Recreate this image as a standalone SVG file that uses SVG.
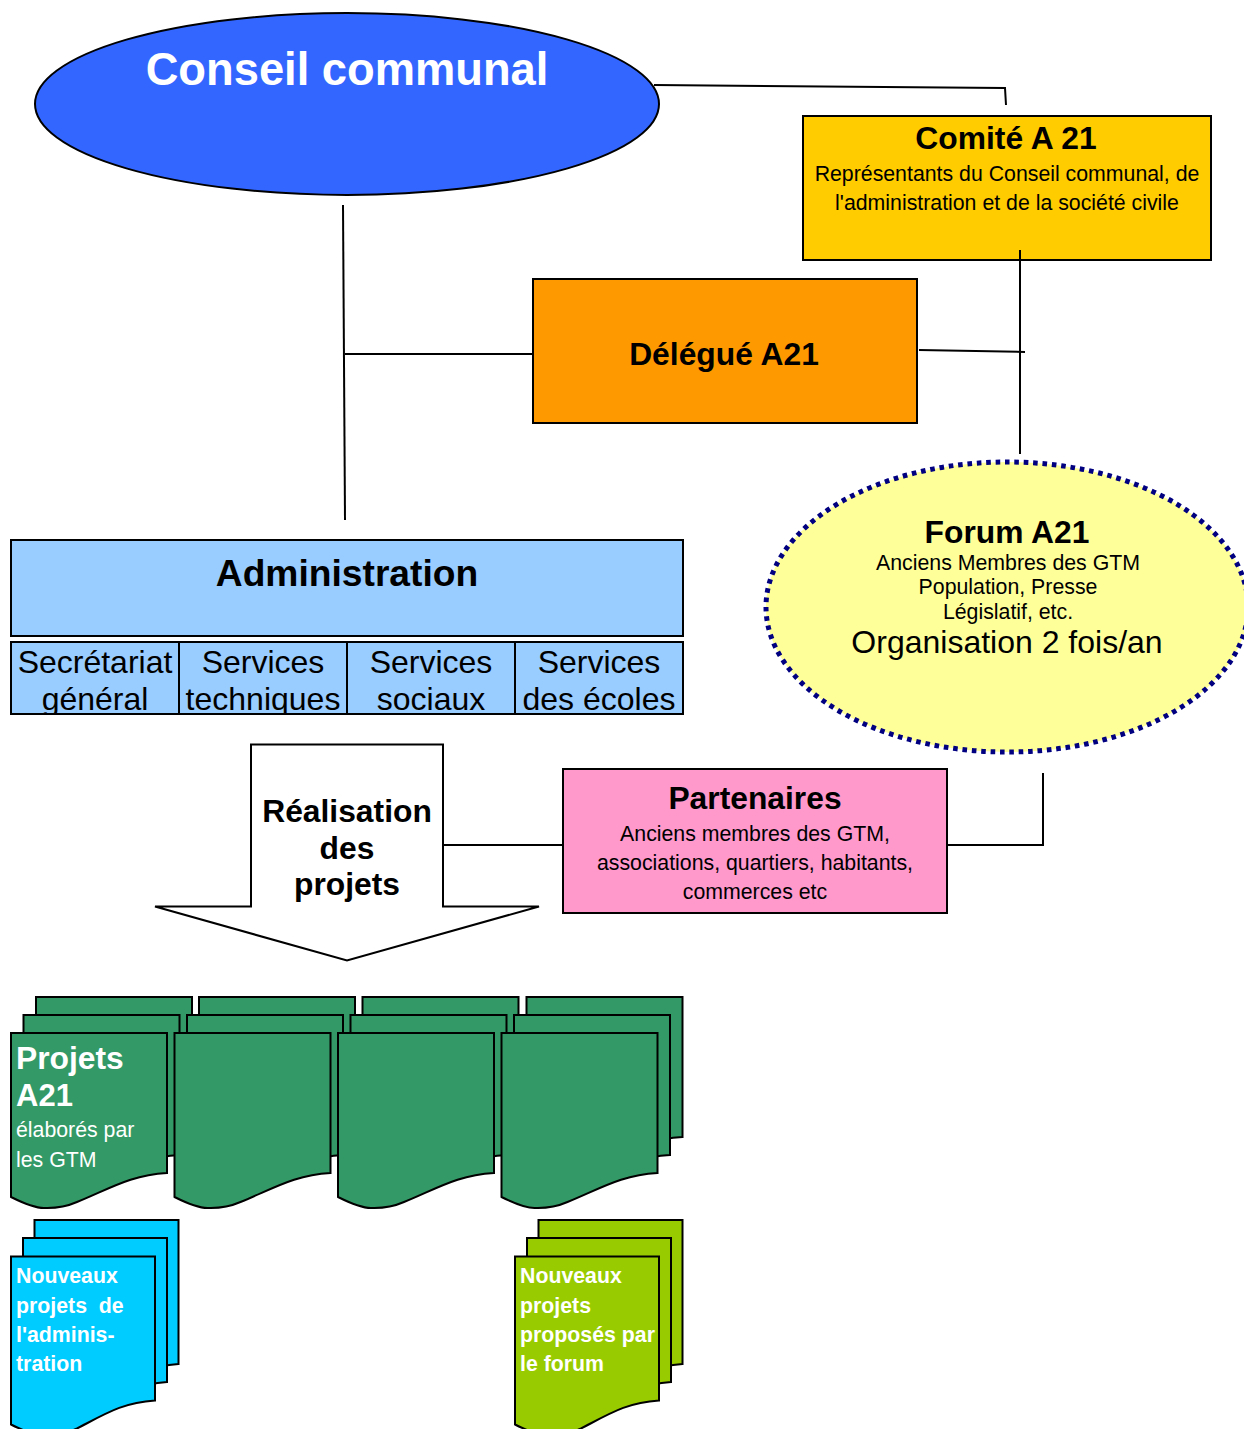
<svg xmlns="http://www.w3.org/2000/svg" xmlns:xlink="http://www.w3.org/1999/xlink" width="1244" height="1429" viewBox="0 0 1244 1429">
<style>
text{font-family:"Liberation Sans",Arial,sans-serif;text-anchor:middle;fill:#000}
.b{font-weight:bold}
.l{text-anchor:start}
.w{fill:#fff}
.s{stroke:#000;stroke-width:2}
.c{fill:none;stroke:#000;stroke-width:2}
.g{fill:#339966}
.cy{fill:#00ccff}
.lm{fill:#99cc00}
.cell{fill:#99ccff;stroke:#000;stroke-width:2}
.t{font-size:31.8px}
.m{font-size:21.3px}
</style>
<defs>
<path id="doc" class="s" d="M0 0H156V140C120 142 100 155 66 169C50 176 39 175 33 175C25 175 12 170 0 164Z"/>
<path id="sdoc" class="s" d="M0 0H144V144C112 146 95 157 66 172C50 179 39 179 33 179C25 179 12 174 0 168Z"/>
<clipPath id="cells"><rect x="10" y="642" width="674" height="72"/></clipPath>
</defs>
<rect width="1244" height="1429" fill="#fff"/>
<g id="conseil">
<ellipse cx="347" cy="104" rx="312" ry="91" fill="#3366ff" class="s"/>
<text x="347" y="85" class="b w" font-size="45.300">Conseil communal</text>
</g>
<g id="comite">
<rect x="803" y="116" width="408" height="144" fill="#ffcc00" class="s"/>
<text x="1006" y="149" class="b t">Comité A 21</text>
<text x="1007" y="181" class="m">Représentants du Conseil communal, de</text>
<text x="1007" y="210" class="m">l'administration et de la société civile</text>
</g>
<g id="delegue">
<rect x="533" y="279" width="384" height="144" fill="#ff9900" class="s"/>
<text x="724" y="365" class="b t">Délégué A21</text>
</g>
<g id="forum">
<ellipse cx="1007" cy="607" rx="241" ry="145" fill="#ffff99" stroke="#000080" stroke-width="5" stroke-dasharray="4.6 4.8"/>
<text x="1007" y="543" class="b t">Forum A21</text>
<text x="1008" y="570" class="m">Anciens Membres des GTM</text>
<text x="1008" y="594" class="m">Population, Presse</text>
<text x="1008" y="619" class="m">Législatif, etc.</text>
<text x="1007" y="653" font-size="32">Organisation 2 fois/an</text>
</g>
<g id="administration">
<rect x="11" y="540" width="672" height="96" fill="#99ccff" class="s"/>
<text x="347" y="586" class="b" font-size="37.200">Administration</text>
</g>
<g id="services">
<rect class="cell" x="11" y="642" width="168" height="72"/>
<rect class="cell" x="179" y="642" width="168" height="72"/>
<rect class="cell" x="347" y="642" width="168" height="72"/>
<rect class="cell" x="515" y="642" width="168" height="72"/>
<g clip-path="url(#cells)" font-size="32">
<text x="95" y="673">Secrétariat</text>
<text x="95" y="710">général</text>
<text x="263" y="673">Services</text>
<text x="263" y="710">techniques</text>
<text x="431" y="673">Services</text>
<text x="431" y="710">sociaux</text>
<text x="599" y="673">Services</text>
<text x="599" y="710">des écoles</text>
</g>
</g>
<g id="realisation">
<path d="M251 744.500H443V906.500H539L347 960.500L155 906.500H251Z" fill="#fff" class="s"/>
<text x="347" y="822" class="b t">Réalisation</text>
<text x="347" y="859" class="b t">des</text>
<text x="347" y="895" class="b t">projets</text>
</g>
<g id="partenaires">
<rect x="563" y="769" width="384" height="144" fill="#ff99cc" class="s"/>
<text x="755" y="809" class="b t">Partenaires</text>
<text x="755" y="841" class="m">Anciens membres des GTM,</text>
<text x="755" y="870" class="m">associations, quartiers, habitants,</text>
<text x="755" y="899" class="m">commerces etc</text>
</g>
<g id="projets">
<g class="g">
<use xlink:href="#doc" x="36" y="997"/><use xlink:href="#doc" x="23.500" y="1015"/><use xlink:href="#doc" x="11" y="1033"/>
<use xlink:href="#doc" x="199" y="997"/><use xlink:href="#doc" x="187" y="1015"/><use xlink:href="#doc" x="174.500" y="1033"/>
<use xlink:href="#doc" x="362.500" y="997"/><use xlink:href="#doc" x="350.500" y="1015"/><use xlink:href="#doc" x="338" y="1033"/>
<use xlink:href="#doc" x="526.500" y="997"/><use xlink:href="#doc" x="514" y="1015"/><use xlink:href="#doc" x="501.500" y="1033"/>
</g>
<text x="16" y="1069" class="b w l t">Projets</text>
<text x="16" y="1106" class="b w l" font-size="31">A21</text>
<text x="16" y="1137" class="w l m">élaborés par</text>
<text x="16" y="1167" class="w l m">les GTM</text>
</g>
<g id="nouveaux-admin">
<g class="cy">
<use xlink:href="#sdoc" x="34.500" y="1220"/><use xlink:href="#sdoc" x="23" y="1238"/><use xlink:href="#sdoc" x="11" y="1256.500"/>
</g>
<text x="16" y="1283" class="b w l m">Nouveaux</text>
<text x="16" y="1313" class="b w l m" xml:space="preserve">projets  de</text>
<text x="16" y="1342" class="b w l m">l'adminis-</text>
<text x="16" y="1371" class="b w l m">tration</text>
</g>
<g id="nouveaux-forum">
<g class="lm">
<use xlink:href="#sdoc" x="538.500" y="1220"/><use xlink:href="#sdoc" x="527" y="1238"/><use xlink:href="#sdoc" x="515" y="1256.500"/>
</g>
<text x="520" y="1283" class="b w l m">Nouveaux</text>
<text x="520" y="1313" class="b w l m">projets</text>
<text x="520" y="1342" class="b w l m">proposés par</text>
<text x="520" y="1371" class="b w l m">le forum</text>
</g>
<g id="connectors">
<path class="c" d="M654 85L1005 88L1006 105"/>
<path class="c" d="M343 205L345 520"/>
<path class="c" d="M345 354H533"/>
<path class="c" d="M1020 250V454"/>
<path class="c" d="M919 350L1025 352"/>
<path class="c" d="M443 845H563"/>
<path class="c" d="M947 845H1043V773"/>
</g>
</svg>
